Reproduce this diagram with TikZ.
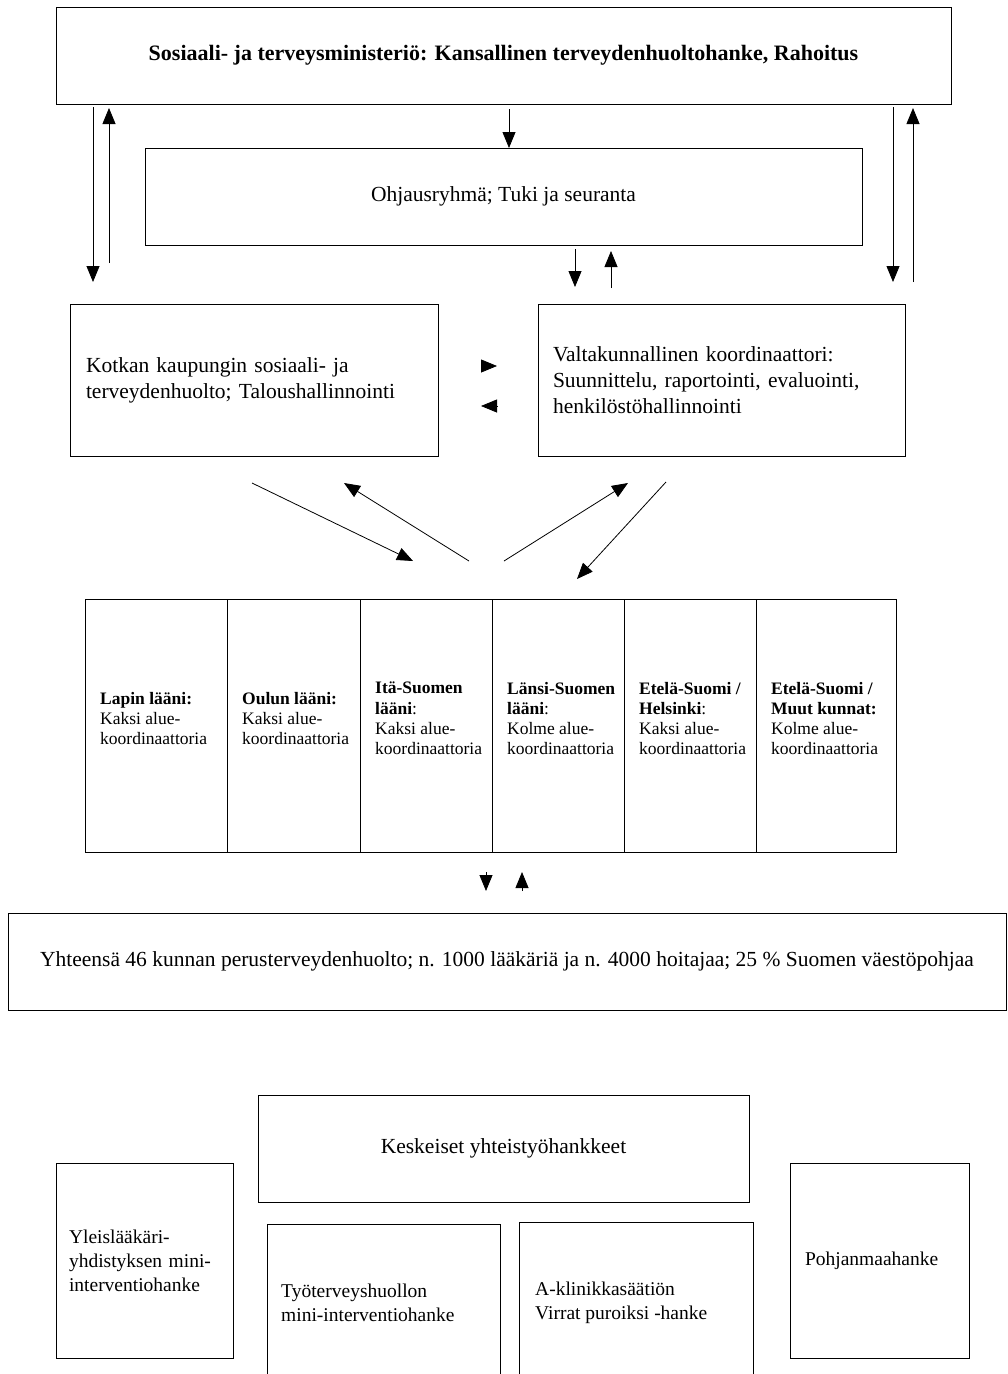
\documentclass[tikz,border=0pt]{standalone}
\usepackage{fontspec}
\setmainfont{Liberation Serif}
\usetikzlibrary{positioning,arrows.meta}

\tikzset{
  box/.style={draw, line width=1pt, inner sep=0pt, outer sep=0pt},
  main/.style={font=\fontsize{21.5}{26}\selectfont},
  lowfont/.style={font=\fontsize{19.5}{24}\selectfont},
  cellfont/.style={font=\fontsize{17.5}{20.3}\selectfont},
  arr/.style={-{Triangle[length=16pt,width=13pt]}, line width=0.8pt},
}

\begin{document}
\begin{tikzpicture}[x=1pt,y=-1pt]
  \useasboundingbox (0,0) rectangle (1008,1374);
  \clip (0,0) rectangle (1008,1374);

  % ylin taso
  \node[box, minimum width=895pt, minimum height=97pt, font=\fontsize{22}{26}\selectfont\bfseries] (stm) at (503.5,55.5) {Sosiaali- ja terveysministeriö: Kansallinen terveydenhuoltohanke, Rahoitus};
  \node[box, main, minimum width=717pt, minimum height=97pt] (ohj) at (503.5,196.5) {Ohjausryhmä; Tuki ja seuranta};
  \node[box, main, text width=336pt, inner xsep=16pt, minimum height=152pt, align=left] (kotka) at (254,380) {Kotkan kaupungin sosiaali- ja\\terveydenhuolto; Taloushallinnointi};
  \node[box, main, text width=337pt, inner xsep=15pt, minimum height=152pt, align=left] (valta) at (721.5,380) {Valtakunnallinen koordinaattori:\\Suunnittelu, raportointi, evaluointi,\\henkilöstöhallinnointi};

  % lääninlohkot
  \foreach \i/\xa/\xb/\txt in {
      1/85/227/{\textbf{Lapin lääni:}\\Kaksi alue-\\koordinaattoria},
      2/227/360/{\textbf{Oulun lääni:}\\Kaksi alue-\\koordinaattoria},
      3/360/492/{\textbf{Itä-Suomen}\\\textbf{lääni}:\\Kaksi alue-\\koordinaattoria},
      4/492/624/{\textbf{Länsi-Suomen}\\\textbf{lääni}:\\Kolme alue-\\koordinaattoria},
      5/624/756/{\textbf{Etelä-Suomi /}\\\textbf{Helsinki}:\\Kaksi alue-\\koordinaattoria},
      6/756/896/{\textbf{Etelä-Suomi /}\\\textbf{Muut kunnat:}\\Kolme alue-\\koordinaattoria}} {
    \node[box, minimum width={(\xb-\xa)*1pt}, minimum height=253pt] (cell\i) at ({(\xa+\xb)/2},725.5) {};
    \node[cellfont, anchor=west, align=left, inner sep=0pt] (lab\i) at ([shift={(15,-7)}]cell\i.west) {\txt};
  }

  \node[box, main, minimum width=998pt, minimum height=97pt] (perus) at (507,961.5) {Yhteensä 46 kunnan perusterveydenhuolto; n. 1000 lääkäriä ja n. 4000 hoitajaa; 25 \% Suomen väestöpohjaa};

  % yhteistyöhankkeet
  \node[box, main, minimum width=491pt, minimum height=107pt] (kesk) at (503.5,1148.5) {Keskeiset yhteistyöhankkeet};
  \node[box, lowfont, text width=151pt, inner xsep=13pt, minimum height=195pt, align=left] (yleis) at (144.5,1260.5) {Yleislääkäri-\\yhdistyksen mini-\\interventiohanke};
  \node[box, lowfont, text width=149pt, inner xsep=15pt, minimum height=195pt, align=left] (pohja) at (879.5,1260.5) {Pohjanmaahanke};
  \node[box, minimum width=233pt, minimum height=200pt] (tyo) at (383.5,1324) {};
  \node[box, minimum width=234pt, minimum height=200pt] (aklin) at (636,1322) {};
  \node[lowfont, anchor=west, align=left, inner sep=0pt] (tyotxt) at ([shift={(14,79)}]tyo.north west) {Työterveyshuollon\\mini-interventiohanke};
  \node[lowfont, anchor=west, align=left, inner sep=0pt] (aklintxt) at ([shift={(16,81)}]aklin.north west) {A-klinikkasäätiön\\Virrat puroiksi -hanke};

  % nuolten vapaat päät
  \coordinate (vasalas) at (93,282);
  \coordinate (vasylos) at (109,263);
  \coordinate (oikalas) at (893,282);
  \coordinate (oikylos) at (913,282);
  \coordinate (ohjalas) at (575,287);
  \coordinate (ohjylos) at (611,288);
  \coordinate (k1) at (481,366);
  \coordinate (k2) at (497,366);
  \coordinate (v1) at (497,406);
  \coordinate (v2) at (481,406);
  \coordinate (d1) at (252,483);
  \coordinate (d2) at (413,561);
  \coordinate (d3) at (469,561);
  \coordinate (d4) at (344,483);
  \coordinate (d5) at (504,561);
  \coordinate (d6) at (628,483);
  \coordinate (d7) at (666,482);
  \coordinate (d8) at (577,579);
  \coordinate (p1) at (486,872);
  \coordinate (p2) at (486,891);
  \coordinate (p3) at (522,891);
  \coordinate (p4) at (522,872);

  \draw[arr] ([shift={(5.5,5)}]stm.south) -- ([xshift=5.5pt]ohj.north);
  \draw[arr] ([shift={(37,3)}]stm.south west) -- (vasalas);
  \draw[arr] (vasylos) -- ([shift={(53,4)}]stm.south west);
  \draw[arr] ([shift={(-58,3)}]stm.south east) -- (oikalas);
  \draw[arr] (oikylos) -- ([shift={(-38,4)}]stm.south east);
  \draw[arr] ([shift={(71.5,4)}]ohj.south) -- (ohjalas);
  \draw[arr] (ohjylos) -- ([shift={(107.5,6)}]ohj.south);
  \draw[arr] (k1) -- (k2);
  \draw[arr] (v1) -- (v2);
  \draw[arr] (d1) -- (d2);
  \draw[arr] (d3) -- (d4);
  \draw[arr] (d5) -- (d6);
  \draw[arr] (d7) -- (d8);
  \draw[arr] (p1) -- (p2);
  \draw[arr] (p3) -- (p4);
\end{tikzpicture}
\end{document}
